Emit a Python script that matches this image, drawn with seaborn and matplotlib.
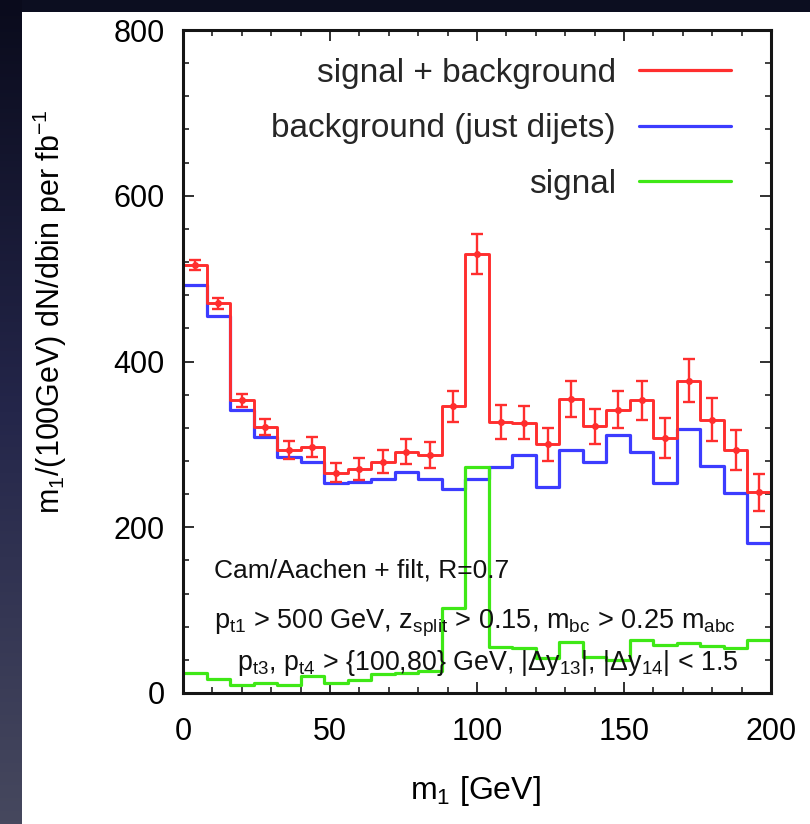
import numpy as np
import pandas as pd
import matplotlib
matplotlib.use('Agg')
import matplotlib.pyplot as plt
import seaborn as sns
from matplotlib.lines import Line2D
from matplotlib.ticker import MultipleLocator

# bins de 8 GeV entre 0 y 200
bordes = np.arange(0, 201, 8)
centros = bordes[:-1] + 4

senal_fondo = [516, 470, 353, 321, 293, 297, 266, 270, 279, 291, 287, 346, 530,
               327, 326, 300, 355, 322, 342, 353, 308, 377, 330, 293, 242]
errores = [6, 7, 8, 9.5, 11, 12, 11, 13, 14, 15, 16, 19, 24,
           20, 20, 19.5, 22, 21, 22, 23, 24, 26, 26, 24, 22.5]
fondo = [492, 455, 342, 309, 285, 279, 253, 255, 258, 267, 258, 246, 258,
         273, 287, 248, 293, 279, 311, 291, 253, 319, 274, 241, 181]
senal = [24, 16.5, 9.6, 12.5, 9.6, 20, 11.7, 15.7, 23, 24.5, 26, 103, 273,
         56, 54, 42, 62, 44, 40, 64, 58, 60, 57, 54, 64]

etiquetas = ['signal + background', 'background (just dijets)', 'signal']
colores = ['#ff2e2e', '#3c3cff', '#3fe816']

df = pd.DataFrame({'m1': centros, 'sb': senal_fondo, 'err': errores,
                   'b': fondo, 's': senal})

sns.set_theme(style='ticks')
plt.rcParams['font.family'] = ['Liberation Sans', 'DejaVu Sans']
plt.rcParams['mathtext.default'] = 'regular'

fig = plt.figure(figsize=(8.1, 8.24), dpi=100, facecolor='#0c0e20')

# fondo de la diapositiva: franja izquierda con degradado y panel blanco
ax_bg = fig.add_axes([0, 0, 1, 1], zorder=-5)
grad = np.linspace(0, 1, 256).reshape(-1, 1)
ax_bg.imshow(grad, aspect='auto', cmap=matplotlib.colors.LinearSegmentedColormap.from_list(
    'g', ['#0a0b1c', '#24264a', '#46485e']), extent=[0, 22 / 810, 0, 1])
ax_bg.add_patch(plt.Rectangle((22 / 810, 0), 1, 1 - 12 / 824, facecolor='white', edgecolor='none'))
ax_bg.set_xlim(0, 1)
ax_bg.set_ylim(0, 1)
ax_bg.set_facecolor('#0c0e20')
ax_bg.axis('off')

ax = fig.add_axes([183 / 810, 1 - 693 / 824, 588 / 810, 663 / 824])
ax.set_facecolor('white')

# histogramas en escalones
n_bins = len(centros)
rango = (bordes[0], bordes[-1])
sns.histplot(data=df, x='m1', weights='b', bins=n_bins, binrange=rango, element='step',
             fill=False, color=colores[1], linewidth=2.3, ax=ax)
sns.histplot(data=df, x='m1', weights='sb', bins=n_bins, binrange=rango, element='step',
             fill=False, color=colores[0], linewidth=2.1, ax=ax)
sns.histplot(data=df, x='m1', weights='s', bins=n_bins, binrange=rango, element='step',
             fill=False, color=colores[2], linewidth=2.3, ax=ax)
ax.errorbar(df['m1'], df['sb'], yerr=df['err'], fmt='o', ms=4, color=colores[0],
            capsize=4, elinewidth=1.7, capthick=1.7)

ax.set_xlim(0, 200)
ax.set_ylim(0, 800)
ax.xaxis.set_major_locator(MultipleLocator(50))
ax.xaxis.set_minor_locator(MultipleLocator(10))
ax.yaxis.set_major_locator(MultipleLocator(200))
ax.yaxis.set_minor_locator(MultipleLocator(40))
ax.tick_params(which='both', direction='in', top=True, right=True, color='#202020')
ax.tick_params(which='major', length=8, width=1.3, labelsize=22, labelcolor='black')
ax.tick_params(axis='x', which='major', pad=17)
ax.tick_params(axis='y', which='major', pad=13)
ax.tick_params(which='minor', length=4, width=1.2)
for s in ax.spines.values():
    s.set_linewidth(2.2)
    s.set_color('#151515')

ax.set_xlabel(r'm$_1$ [GeV]', fontsize=23, color='black', va='center')
ax.xaxis.set_label_coords(0.498, -0.148)
ax.set_ylabel(r'm$_1$/(100GeV) dN/dbin per fb$^{-1}$', fontsize=22, color='black', va='center')
ax.yaxis.set_label_coords(-0.226, 0.576)

# textos de cortes
ax.text(0.0527, 0.1855, 'Cam/Aachen + filt, R=0.7', transform=ax.transAxes,
        fontsize=19, va='center', color='#111111')
ax.text(0.0527, 0.1056, r'p$_{t1}$ > 500 GeV, z$_{split}$ > 0.15, m$_{bc}$ > 0.25 m$_{abc}$',
        transform=ax.transAxes, fontsize=19.5, va='center', color='#111111')
ax.text(0.0918, 0.0452, r'p$_{t3}$, p$_{t4}$ > {100,80} GeV, |$\Delta$y$_{13}$|, |$\Delta$y$_{14}$| < 1.5',
        transform=ax.transAxes, fontsize=19.3, va='center', color='#111111')

handles = [Line2D([], [], color=c, linewidth=2.3) for c in colores]
ax.legend(handles, etiquetas, loc='upper right', bbox_to_anchor=(0.932, 0.958),
          markerfirst=False, frameon=False, fontsize=24, handlelength=2.75,
          handletextpad=0.7, labelspacing=0.73, borderpad=0, borderaxespad=0)

fig.savefig('out.png', dpi=100, facecolor=fig.get_facecolor())
